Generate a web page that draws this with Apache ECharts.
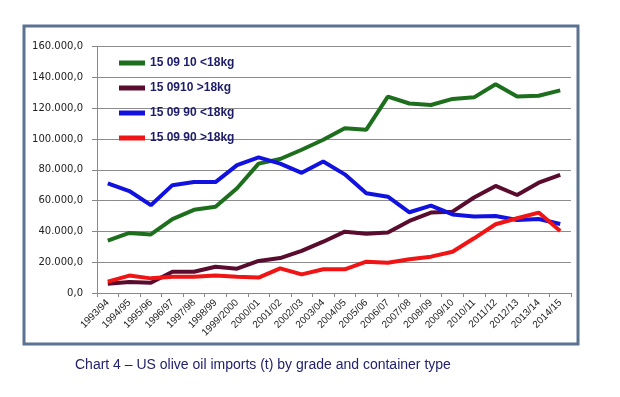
<!DOCTYPE html>
<html>
<head>
<meta charset="utf-8">
<script src="https://cdn.jsdelivr.net/npm/echarts@6/dist/echarts.min.js"></script>
<style>
html,body{margin:0;padding:0;background:#fff;}
#c{width:620px;height:397px;}
</style>
</head>
<body>
<div id="c"></div>
<script>
const categories = ['1993/94','1994/95','1995/96','1996/97','1997/98','1998/99','1999/2000','2000/01','2001/02','2002/03','2003/04','2004/05','2005/06','2006/07','2007/08','2008/09','2009/10','2010/11','2011/12','2012/13','2013/14','2014/15'];
const seriesNames = ['15 09 10 <18kg','15 0910 >18kg','15 09 90 <18kg','15 09 90 >18kg'];
const green = [34000,39000,38000,48000,54000,56000,68000,84000,87000,93000,99500,107000,106000,127500,123000,122000,126000,127000,135500,127500,128000,131500];
const maroon = [6000,7100,6700,13800,13800,17000,15800,20800,22700,27300,33300,39800,38500,39200,46800,52200,52800,62000,69500,63600,71600,76600];
const blue = [71200,66200,57000,70000,72000,72000,83000,88000,84000,78000,85300,77000,64700,62500,52400,56700,51000,49600,50000,47400,48000,44800];
const red = [7400,11300,9500,10600,10600,11300,10600,10000,16000,12100,15400,15400,20300,19700,21900,23600,26800,35500,44600,48500,52200,40300];
const yTicks = {min:0, max:160000, interval:20000};
const titleText = 'Chart 4 – US olive oil imports (t) by grade and container type';

function fmt(v){
  const s = Math.round(v).toString().replace(/\B(?=(\d{3})+(?!\d))/g,'.');
  return s + ',0';
}
const colors = ['#1d6e1d','#5a0c2e','#1212e0','#f01414'];
const chart = echarts.init(document.getElementById('c'));
const dataSets = [green, maroon, blue, red];
chart.setOption({
  animation:false,
  backgroundColor:'#ffffff',
  color: colors,
  grid:{left:97, right:49, top:46.5, bottom:104, containLabel:false},
  title:{text:titleText, left:75, top:358, padding:0, textStyle:{fontFamily:'Liberation Sans', fontSize:14, fontWeight:'normal', color:'#22226e'}},
  legend:{
    orient:'vertical', left:119, top:56, padding:0, itemGap:11,
    icon:'rect', itemWidth:26, itemHeight:5,
    data: seriesNames,
    textStyle:{fontFamily:'Liberation Sans', fontWeight:'bold', fontSize:12, lineHeight:14, color:'#1c1c6a'}
  },
  graphic:[{type:'rect', shape:{x:24, y:26, width:554, height:318}, style:{fill:'none', stroke:'#5c7291', lineWidth:3}, silent:true}],
  xAxis:{
    type:'category', data:categories, boundaryGap:true,
    axisLine:{lineStyle:{color:'#888888', width:1}},
    axisTick:{show:true, interval:0, length:4, lineStyle:{color:'#888888'}},
    axisLabel:{interval:0, rotate:45, margin:8, fontFamily:'Liberation Sans', fontSize:10, color:'#222222'}
  },
  yAxis:{
    type:'value', min:yTicks.min, max:yTicks.max, interval:yTicks.interval,
    axisLine:{show:true, lineStyle:{color:'#888888', width:1}},
    axisTick:{show:true, length:5, lineStyle:{color:'#888888'}},
    splitLine:{lineStyle:{color:'#8c8c8c', width:1}},
    axisLabel:{formatter:fmt, margin:14, fontFamily:'DejaVu Sans', fontSize:10, color:'#222222'}
  },
  series: seriesNames.map((n,i)=>({
    name:n, type:'line', data:dataSets[i], showSymbol:false, symbol:'none',
    lineStyle:{width:4, color:colors[i]}, itemStyle:{color:colors[i]}
  }))
});
</script>
</body>
</html>
